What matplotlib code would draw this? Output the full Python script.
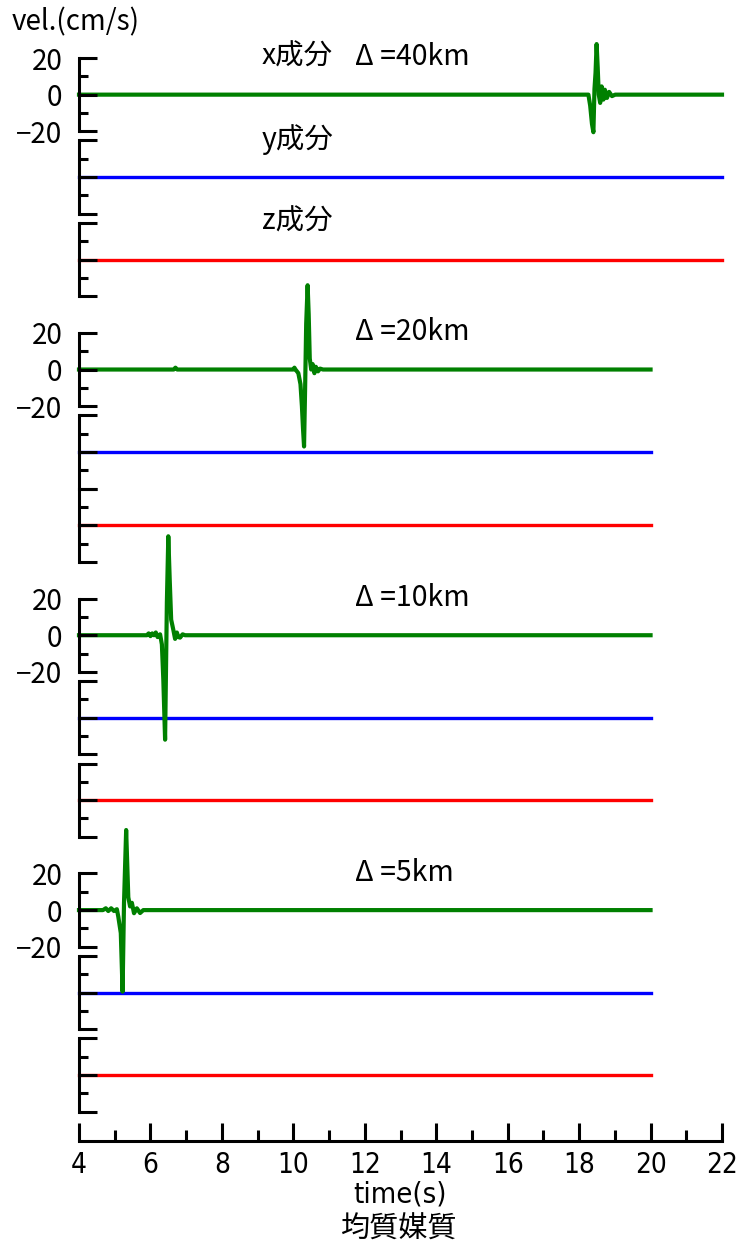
import matplotlib
matplotlib.use('Agg')
import matplotlib.pyplot as plt
import numpy as np

plt.rcParams['font.family'] = ['Noto Sans CJK JP', 'DejaVu Sans']

# %% data
distances = ['40', '20', '10', '5']
t_end = [22.0, 20.0, 20.0, 20.0]

# zero line offsets (in cm/s) of the x, y, z traces of each group
off_x = [0, -150, -295, -445]
off_y = [-45, -195, -340, -490]
off_z = [-90, -235, -385, -535]

# x component (green) of each distance
t_40 = [4.0, 18.26, 18.31, 18.36, 18.40, 18.43, 18.46, 18.49, 18.52, 18.55, 18.59,
        18.63, 18.68, 18.72, 18.78, 18.84, 18.92, 19.01, 22.0]
v_40 = [0, 0, -6, -16, -20.5, 3, 12, 27.6, 15, 0, -4.5,
        4.5, -2.7, 2.7, -1.8, 1.5, -0.8, 0, 0]

t_20 = [4.0, 6.65, 6.70, 6.75, 10.0, 10.03, 10.06, 10.14, 10.20, 10.24, 10.27, 10.30,
        10.33, 10.36, 10.40, 10.43, 10.46, 10.50, 10.54, 10.59, 10.63, 10.69, 10.75,
        10.83, 20.0]
v_20 = [0, 0, 1.0, 0, 0, 1, 0, -2, -8, -20, -32, -42,
        -10, 25, 46, 30, 6, 0, 3, -2, 1.5, -1, 0.5,
        0, 0]

t_10 = [4.0, 5.90, 5.95, 6.00, 6.05, 6.10, 6.15, 6.20, 6.27, 6.32, 6.36, 6.41, 6.46,
        6.50, 6.54, 6.58, 6.64, 6.69, 6.74, 6.78, 6.83, 6.90, 6.97, 20.0]
v_10 = [0, 0, 1, -0.5, 1, 0, 1.5, -1, 0.5, -5, -24, -57, 18,
        54, 30, 8.5, 3, -2, 1.5, -1, -1.3, 0.5, 0, 0]

t_5 = [4.0, 4.67, 4.75, 4.82, 4.90, 4.98, 5.06, 5.10, 5.17, 5.22, 5.26, 5.32, 5.38,
       5.43, 5.48, 5.54, 5.62, 5.71, 5.80, 20.0]
v_5 = [0, 0, 1, -0.5, 1, -0.5, 0.5, -3.6, -12.5, -44.5, 4, 43.7, 7,
       2, 4, -1.7, 1, -1.6, 0, 0]

t_x = [t_40, t_20, t_10, t_5]
v_x = [v_40, v_20, v_10, v_5]

# y and z components are flat (zero) everywhere
v_flat = [0, 0]

y_ticks = [-20, 0, 20]
y_ticklabels = ['\u221220', '0', '20']
x_ticks = list(range(4, 23, 2))

narrow = dict(family=['DejaVu Sans'], fontstretch='condensed')

# %% figure
fig = plt.figure(figsize=(7.42, 12.47), dpi=100)
ax = fig.add_axes([79 / 742, 106 / 1247, 643 / 742, 1083 / 1247])
ax.set_xlim(4, 22)
ax.set_ylim(-571, 20)
ax.set_facecolor('none')

for s in ['left', 'top', 'right']:
    ax.spines[s].set_visible(False)
ax.spines['bottom'].set_linewidth(2.2)
ax.set_yticks([])
ax.set_xticks(x_ticks)
ax.set_xticklabels([str(x) for x in x_ticks], fontsize=20, **narrow)
ax.set_xticks(range(5, 22, 2), minor=True)
ax.tick_params(axis='x', which='major', direction='in', length=13, width=2.2, pad=7)
ax.tick_params(axis='x', which='minor', direction='in', length=8, width=2.2)
ax.set_xlabel('time(s)', fontsize=21, labelpad=1, **narrow)

for i in range(4):
    te = [4.0, t_end[i]]
    ax.plot(te, np.array(v_flat) + off_z[i], color='red', lw=2.4, clip_on=False, zorder=2)
    ax.plot(te, np.array(v_flat) + off_y[i], color='blue', lw=2.4, clip_on=False, zorder=2)
    ax.plot(t_x[i], np.array(v_x[i]) + off_x[i], color='green', lw=3.0, clip_on=False, zorder=3)

    # segmented left axis, one piece per trace
    for off, lab in [(off_x[i], True), (off_y[i], False), (off_z[i], False)]:
        sax = ax.inset_axes([4, off - 20, 18, 40], transform=ax.transData)
        sax.set_ylim(-20, 20)
        sax.patch.set_visible(False)
        for s in ['top', 'right', 'bottom']:
            sax.spines[s].set_visible(False)
        sax.spines['left'].set_linewidth(2.2)
        sax.set_xticks([])
        sax.set_yticks(y_ticks)
        sax.set_yticks([-10, 10], minor=True)
        if lab:
            sax.set_yticklabels(y_ticklabels, fontsize=20)
        else:
            sax.set_yticklabels([])
        sax.tick_params(axis='y', which='major', direction='in', length=13, width=2.2, pad=12)
        sax.tick_params(axis='y', which='minor', direction='in', length=6.5, width=2.2)

    ax.text(11.73, off_x[i] + 20.5, '\u0394 =' + distances[i] + 'km', fontsize=20.5, va='center', ha='left')

ax.text(9.12, off_x[0] + 20.5, 'x成分', fontsize=20.5, va='center', ha='left')
ax.text(9.12, off_y[0] + 20.5, 'y成分', fontsize=20.5, va='center', ha='left')
ax.text(9.12, off_z[0] + 20.5, 'z成分', fontsize=20.5, va='center', ha='left')

fig.text(12 / 742, 1 - 22 / 1247, 'vel.(cm/s)', fontsize=20, va='center', ha='left')
fig.text(398 / 742, 1 - 1230 / 1247, '均質媒質', fontsize=21, va='center', ha='center')

plt.savefig('out.png', dpi=100)
